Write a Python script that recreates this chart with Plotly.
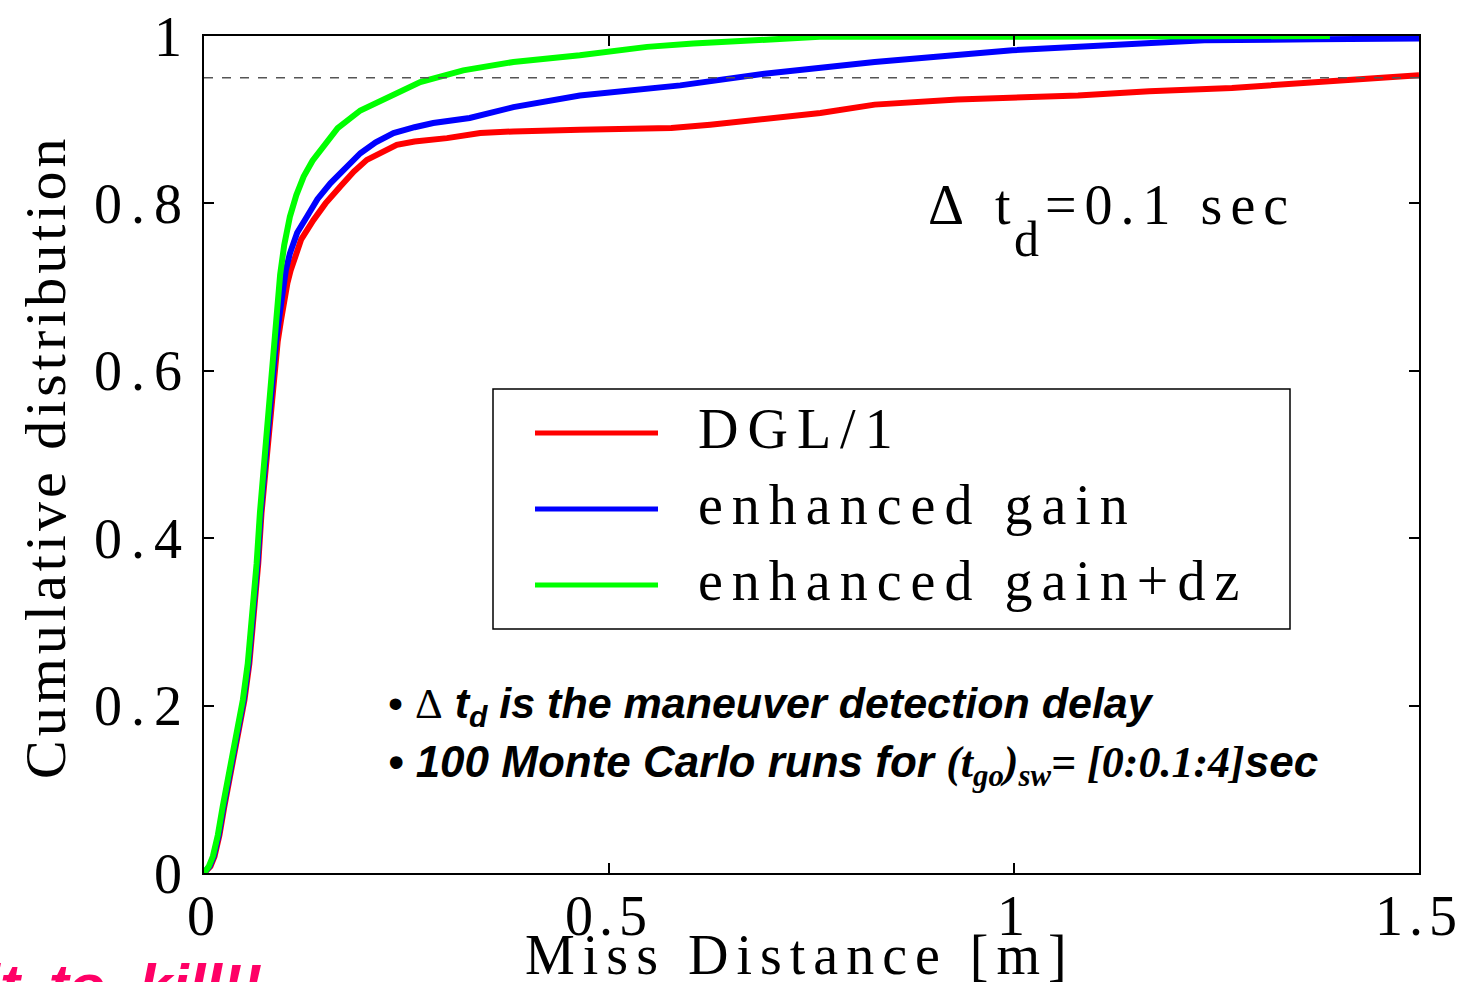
import plotly.graph_objects as go

# ---------------- data ----------------
red_x = [0, 0.008, 0.013, 0.019, 0.025, 0.032, 0.038, 0.044, 0.050, 0.056, 0.061, 0.067, 0.071, 0.075,
         0.079, 0.083, 0.087, 0.091, 0.095, 0.099, 0.103, 0.107, 0.111, 0.120, 0.135, 0.150, 0.168, 0.185,
         0.201, 0.220, 0.238, 0.260, 0.300, 0.341, 0.382, 0.464, 0.577, 0.625, 0.761, 0.828, 0.930, 1.079,
         1.167, 1.269, 1.370, 1.500]
red_y = [0, 0.008, 0.020, 0.045, 0.079, 0.115, 0.150, 0.180, 0.207, 0.250, 0.300, 0.370, 0.430, 0.475,
         0.517, 0.560, 0.600, 0.635, 0.660, 0.685, 0.705, 0.720, 0.732, 0.757, 0.780, 0.800, 0.820, 0.838,
         0.852, 0.862, 0.870, 0.874, 0.878, 0.884, 0.886, 0.888, 0.890, 0.894, 0.908, 0.918, 0.924, 0.929,
         0.934, 0.938, 0.945, 0.953]

blue_x = [0, 0.007, 0.012, 0.018, 0.024, 0.031, 0.037, 0.043, 0.049, 0.055, 0.060, 0.066, 0.070, 0.074,
          0.078, 0.082, 0.086, 0.089, 0.093, 0.097, 0.101, 0.106, 0.115, 0.127, 0.140, 0.156, 0.175, 0.193,
          0.212, 0.234, 0.260, 0.283, 0.328, 0.382, 0.464, 0.588, 0.692, 0.828, 0.998, 1.167, 1.235, 1.372,
          1.500]
blue_y = [0, 0.008, 0.020, 0.045, 0.079, 0.115, 0.150, 0.180, 0.207, 0.250, 0.300, 0.370, 0.430, 0.475,
          0.517, 0.560, 0.600, 0.635, 0.665, 0.695, 0.720, 0.740, 0.765, 0.784, 0.805, 0.824, 0.843, 0.860,
          0.873, 0.884, 0.891, 0.896, 0.902, 0.915, 0.929, 0.941, 0.955, 0.969, 0.983, 0.991, 0.995, 0.996,
          0.997]

green_x = [0, 0.006, 0.011, 0.017, 0.023, 0.030, 0.036, 0.042, 0.048, 0.054, 0.059, 0.065, 0.069, 0.073,
           0.077, 0.081, 0.084, 0.087, 0.090, 0.094, 0.099, 0.106, 0.114, 0.123, 0.134, 0.147, 0.165, 0.193,
           0.226, 0.267, 0.320, 0.382, 0.464, 0.547, 0.604, 0.712, 0.760, 0.900, 1.100, 1.390]
green_y = [0, 0.008, 0.020, 0.045, 0.079, 0.115, 0.150, 0.180, 0.207, 0.250, 0.300, 0.370, 0.430, 0.475,
           0.517, 0.560, 0.590, 0.630, 0.670, 0.715, 0.750, 0.784, 0.810, 0.832, 0.851, 0.868, 0.890, 0.911,
           0.927, 0.945, 0.959, 0.969, 0.977, 0.987, 0.991, 0.997, 0.999, 0.999, 0.9995, 1.000]

series_names = ["DGL/1", "enhanced gain", "enhanced gain+dz"]
series_colors = ["#FF0000", "#0000FF", "#00FF00"]
threshold = 0.95

x_tickvals = [0, 0.5, 1, 1.5]
x_ticktext = ["0", "0.5", "1", "1.5"]
y_tickvals = [0, 0.2, 0.4, 0.6, 0.8, 1]
y_ticktext = ["0", "0.2", "0.4", "0.6", "0.8", "1"]

SERIF = "Liberation Serif, Times New Roman, serif"
SANS = "Liberation Sans, Arial, sans-serif"


def ls(t, px):
    return '<span style="letter-spacing:%dpx">%s</span>' % (px, t)


# ---------------- figure ----------------
fig = go.Figure()
for xs, ys, name, col in zip([red_x, blue_x, green_x], [red_y, blue_y, green_y], series_names, series_colors):
    fig.add_trace(go.Scatter(x=xs, y=ys, mode="lines", name=name,
                             line=dict(color=col, width=6), showlegend=False))

# geometry helpers (plot area 204..1419 x 36..873 px)
L, R, T, B = 204, 1419, 36, 873
W, H = R - L, B - T


def px(x):
    return (x - L) / W


def py(y):
    return (B - y) / H


fig.add_shape(type="line", xref="paper", yref="y", x0=0, x1=1, y0=threshold, y1=threshold,
              line=dict(color="#555555", width=1.5, dash="dash"))

# custom legend
fig.add_shape(type="rect", xref="paper", yref="paper", x0=px(493), x1=px(1290), y0=py(629), y1=py(389),
              line=dict(color="black", width=1.5), fillcolor="white", layer="above")
rows = [433, 509, 585]
for name, col, ry in zip(series_names, series_colors, rows):
    fig.add_shape(type="line", xref="paper", yref="paper", x0=px(535), x1=px(658), y0=py(ry), y1=py(ry),
                  line=dict(color=col, width=5), layer="above")
    fig.add_annotation(xref="paper", yref="paper", x=px(696), y=py(ry - 4), xanchor="left", yanchor="middle",
                       text=ls(name, 9), showarrow=False, font=dict(family=SERIF, size=56, color="black"))

# delta t_d label (subscript drawn full size and lowered, as in the reference)
fig.add_annotation(xref="paper", yref="paper", x=px(926), y=py(205), xanchor="left", yanchor="middle",
                   text=ls("Δ t", 10), showarrow=False, font=dict(family=SERIF, size=56, color="black"))
fig.add_annotation(xref="paper", yref="paper", x=px(1012), y=py(239), xanchor="left", yanchor="middle",
                   text="d", showarrow=False, font=dict(family=SERIF, size=50, color="black"))
fig.add_annotation(xref="paper", yref="paper", x=px(1043), y=py(205), xanchor="left", yanchor="middle",
                   text=ls("=0.1 sec", 8), showarrow=False, font=dict(family=SERIF, size=56, color="black"))

# bullet notes
note1 = ('• <span style="font-family:Liberation Serif">Δ</span> <b><i>t<sub>d</sub> is the maneuver detection delay</i></b>')
note2 = ('<b><i>• 100 Monte Carlo runs for </i></b>'
         '<span style="font-family:Liberation Serif"><b><i>(t<sub>go</sub>)<sub>sw</sub>= [0:0.1:4]</i></b></span>'
         '<b><i>sec</i></b>')
fig.add_annotation(xref="paper", yref="paper", x=px(386), y=py(706), xanchor="left", yanchor="middle",
                   text=note1, showarrow=False, font=dict(family=SANS, size=43, color="black"))
fig.add_annotation(xref="paper", yref="paper", x=px(386), y=py(765), xanchor="left", yanchor="middle",
                   text=note2, showarrow=False, font=dict(family=SANS, size=44, color="black"))

# axis titles as annotations
fig.add_annotation(xref="paper", yref="paper", x=px(800), y=py(955), xanchor="center", yanchor="middle",
                   text=ls("Miss Distance [m]", 8), showarrow=False,
                   font=dict(family=SERIF, size=56, color="black"))
fig.add_annotation(xref="paper", yref="paper", x=px(45), y=py(457), xanchor="center", yanchor="middle",
                   textangle=-90, text=ls("Cumulative distribution", 4), showarrow=False,
                   font=dict(family=SERIF, size=58, color="black"))

# pink slogan cut off at bottom-left
fig.add_annotation(xref="paper", yref="paper", x=px(264), y=py(950), xanchor="right", yanchor="top",
                   text="<b><i>Hit\u2009 to  kill!!</i></b>", showarrow=False,
                   font=dict(family=SANS, size=60, color="#FF0066"))

fig.update_layout(
    width=1461, height=982,
    margin=dict(l=L, r=1461 - R, t=T, b=982 - B, autoexpand=False),
    paper_bgcolor="white", plot_bgcolor="white",
    xaxis=dict(range=[0, 1.5], tickvals=x_tickvals, ticktext=[ls(t, 6) for t in x_ticktext],
               ticks="inside", ticklen=10, tickwidth=1.5, tickcolor="black",
               showline=True, linecolor="black", linewidth=1.5, mirror="ticks",
               showgrid=False, zeroline=False, automargin=False, ticklabeloverflow="allow",
               ticklabelstandoff=-7,
               tickfont=dict(family=SERIF, size=56, color="black")),
    yaxis=dict(range=[0, 1], tickvals=y_tickvals, ticktext=[ls(t, 9) for t in y_ticktext],
               ticks="inside", ticklen=10, tickwidth=1.5, tickcolor="black",
               showline=True, linecolor="black", linewidth=1.5, mirror="ticks",
               showgrid=False, zeroline=False, automargin=False,
               tickfont=dict(family=SERIF, size=56, color="black")),
)

fig.write_html("out.html")
